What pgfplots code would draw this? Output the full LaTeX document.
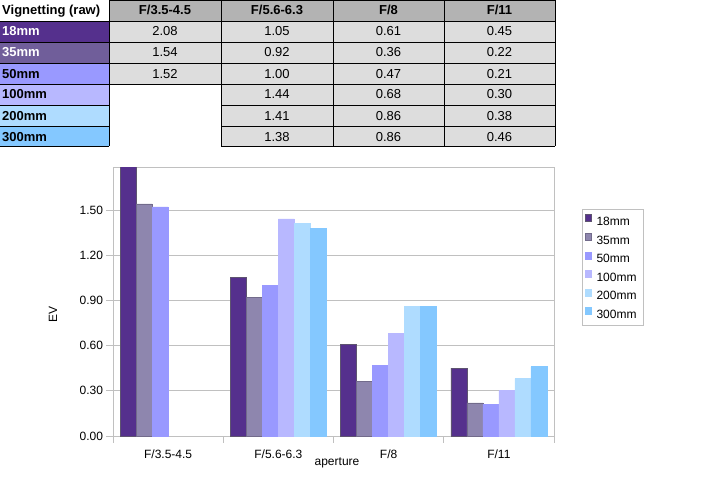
\documentclass[border=0pt]{standalone}
\usepackage{fontspec}
\setmainfont{Liberation Sans}
\usepackage{pgfplots}
\pgfplotsset{compat=1.18}
\definecolor{cA}{HTML}{55308D}
\definecolor{cB}{HTML}{8E86AE}
\definecolor{cC}{HTML}{9999FF}
\definecolor{cD}{HTML}{B8B8FF}
\definecolor{cE}{HTML}{AFDCFF}
\definecolor{cF}{HTML}{84C8FF}
\definecolor{tB}{HTML}{705E9A}
\definecolor{hdr}{HTML}{B3B3B3}
\definecolor{cellg}{HTML}{DDDDDD}
\definecolor{gris}{HTML}{C0C0C0}
\definecolor{edgeA}{HTML}{5E5470}
\begin{document}
\begin{tikzpicture}
\path[use as bounding box] (0pt,0pt) rectangle (707pt,-495pt);
% ---- table ----
\fill[hdr] (109pt,0pt) rectangle (555pt,-21pt);
\fill[cA] (0pt,-21pt) rectangle (109pt,-42pt);
\fill[tB] (0pt,-42pt) rectangle (109pt,-63pt);
\fill[cC] (0pt,-63pt) rectangle (109pt,-84pt);
\fill[cD] (0pt,-84pt) rectangle (109pt,-105pt);
\fill[cE] (0pt,-105pt) rectangle (109pt,-126pt);
\fill[cF] (0pt,-126pt) rectangle (109pt,-146pt);
\fill[cellg] (109pt,-21pt) rectangle (221pt,-84pt);
\fill[cellg] (221pt,-21pt) rectangle (555pt,-146pt);
\begin{scope}[line width=0.9pt, black]
\draw (0pt,-21pt) -- (555pt,-21pt);
\draw (0pt,-42pt) -- (555pt,-42pt);
\draw (0pt,-63pt) -- (555pt,-63pt);
\draw (0pt,-84pt) -- (555pt,-84pt);
\draw (0pt,-105pt) -- (109pt,-105pt) (221pt,-105pt) -- (555pt,-105pt);
\draw (0pt,-126pt) -- (109pt,-126pt) (221pt,-126pt) -- (555pt,-126pt);
\draw (0pt,-146pt) -- (109pt,-146pt) (221pt,-146pt) -- (555pt,-146pt);
\draw (109pt,0pt) -- (109pt,-146pt);
\draw (221pt,0pt) -- (221pt,-146pt);
\draw (333pt,0pt) -- (333pt,-146pt);
\draw (444pt,0pt) -- (444pt,-146pt);
\draw (555pt,0pt) -- (555pt,-146pt);
\draw (109pt,-0.45pt) -- (555pt,-0.45pt);
\end{scope}
\begin{scope}[every node/.style={font=\fontsize{13}{15}\selectfont, inner sep=0pt}]
\node[anchor=base west, font=\fontsize{13}{15}\selectfont\bfseries] at (2pt,-15pt) {Vignetting (raw)};
\node[anchor=base, font=\fontsize{13}{15}\selectfont\bfseries] at (165pt,-15pt) {F/3.5-4.5};
\node[anchor=base, font=\fontsize{13}{15}\selectfont\bfseries] at (277pt,-15pt) {F/5.6-6.3};
\node[anchor=base, font=\fontsize{13}{15}\selectfont\bfseries] at (388.5pt,-15pt) {F/8};
\node[anchor=base, font=\fontsize{13}{15}\selectfont\bfseries] at (499.5pt,-15pt) {F/11};
\node[anchor=base west, font=\fontsize{13}{15}\selectfont\bfseries, text=white] at (2pt,-36pt) {18mm};
\node[anchor=base west, font=\fontsize{13}{15}\selectfont\bfseries, text=white] at (2pt,-57pt) {35mm};
\node[anchor=base west, font=\fontsize{13}{15}\selectfont\bfseries] at (2pt,-78pt) {50mm};
\node[anchor=base west, font=\fontsize{13}{15}\selectfont\bfseries] at (2pt,-99pt) {100mm};
\node[anchor=base west, font=\fontsize{13}{15}\selectfont\bfseries] at (2pt,-120pt) {200mm};
\node[anchor=base west, font=\fontsize{13}{15}\selectfont\bfseries] at (2pt,-141pt) {300mm};
% values
\node[anchor=base] at (165pt,-36pt) {2.08};
\node[anchor=base] at (165pt,-57pt) {1.54};
\node[anchor=base] at (165pt,-78pt) {1.52};
\node[anchor=base] at (277pt,-36pt) {1.05};
\node[anchor=base] at (277pt,-57pt) {0.92};
\node[anchor=base] at (277pt,-78pt) {1.00};
\node[anchor=base] at (277pt,-99pt) {1.44};
\node[anchor=base] at (277pt,-120pt) {1.41};
\node[anchor=base] at (277pt,-141pt) {1.38};
\node[anchor=base] at (388.5pt,-36pt) {0.61};
\node[anchor=base] at (388.5pt,-57pt) {0.36};
\node[anchor=base] at (388.5pt,-78pt) {0.47};
\node[anchor=base] at (388.5pt,-99pt) {0.68};
\node[anchor=base] at (388.5pt,-120pt) {0.86};
\node[anchor=base] at (388.5pt,-141pt) {0.86};
\node[anchor=base] at (499.5pt,-36pt) {0.45};
\node[anchor=base] at (499.5pt,-57pt) {0.22};
\node[anchor=base] at (499.5pt,-78pt) {0.21};
\node[anchor=base] at (499.5pt,-99pt) {0.30};
\node[anchor=base] at (499.5pt,-120pt) {0.38};
\node[anchor=base] at (499.5pt,-141pt) {0.46};
\end{scope}
% ---- chart ----
\begin{axis}[
  at={(113pt,-436pt)}, anchor=south west,
  scale only axis, width=441pt, height=269pt,
  ybar=0pt, bar width=16pt,
  xmin=-0.5, xmax=3.5, ymin=0, ymax=1.785,
  xtick={-0.5,0.5,1.5,2.5,3.5}, xticklabels={},
  extra x ticks={0,1,2,3},
  extra x tick labels={F/3.5-4.5,F/5.6-6.3,F/8,F/11},
  extra x tick style={major tick length=0pt, xticklabel style={yshift=-10pt}},
  ytick={0,0.3,0.6,0.9,1.2,1.5},
  yticklabel style={/pgf/number format/.cd, fixed, fixed zerofill, precision=2},
  /pgf/number format/assume math mode=true,
  ticklabel style={font=\fontsize{12}{14}\selectfont},
  xtick pos=bottom, ytick pos=left,
  tick align=outside, major tick length=6.5pt,
  tick style={gris, line width=0.9pt},
  axis line style={gris, line width=0.9pt},
  ymajorgrids, grid style={gris, line width=0.9pt},
  legend style={at={(1.0635,0.8439)}, anchor=north west, draw=gris, line width=0.9pt,
    font=\fontsize{12}{14}\selectfont, inner xsep=2.5pt, inner ysep=5pt,
    row sep=5pt,
    nodes={inner xsep=4.5pt, inner ysep=0pt, text height=9pt, text depth=2.5pt, anchor=west}},
  legend cell align=left,
  sq/.style={legend image code/.code={\draw[##1, line width=0.6pt] (0.5pt,0.5pt) rectangle (7pt,7.5pt);}},
]
\addplot[fill=cA, draw=edgeA, line width=0.6pt, sq] coordinates {(0,2.08) (1,1.05) (2,0.61) (3,0.45)};
\addplot[fill=cB, draw=cB!80!black, line width=0.6pt, sq] coordinates {(0,1.54) (1,0.92) (2,0.36) (3,0.22)};
\addplot[fill=cC, draw=cC, line width=0.6pt, sq] coordinates {(0,1.52) (1,1.00) (2,0.47) (3,0.21)};
\addplot[fill=cD, draw=cD, line width=0.6pt, sq] coordinates {(1,1.44) (2,0.68) (3,0.30)};
\addplot[fill=cE, draw=cE, line width=0.6pt, sq] coordinates {(1,1.41) (2,0.86) (3,0.38)};
\addplot[fill=cF, draw=cF, line width=0.6pt, sq] coordinates {(1,1.38) (2,0.86) (3,0.46)};
\legend{18mm,35mm,50mm,100mm,200mm,300mm}
\end{axis}
\node[rotate=90, font=\fontsize{12}{14}\selectfont] at (53pt,-314pt) {EV};
\node[font=\fontsize{12}{14}\selectfont] at (337pt,-463pt) {aperture};
\end{tikzpicture}
\end{document}
